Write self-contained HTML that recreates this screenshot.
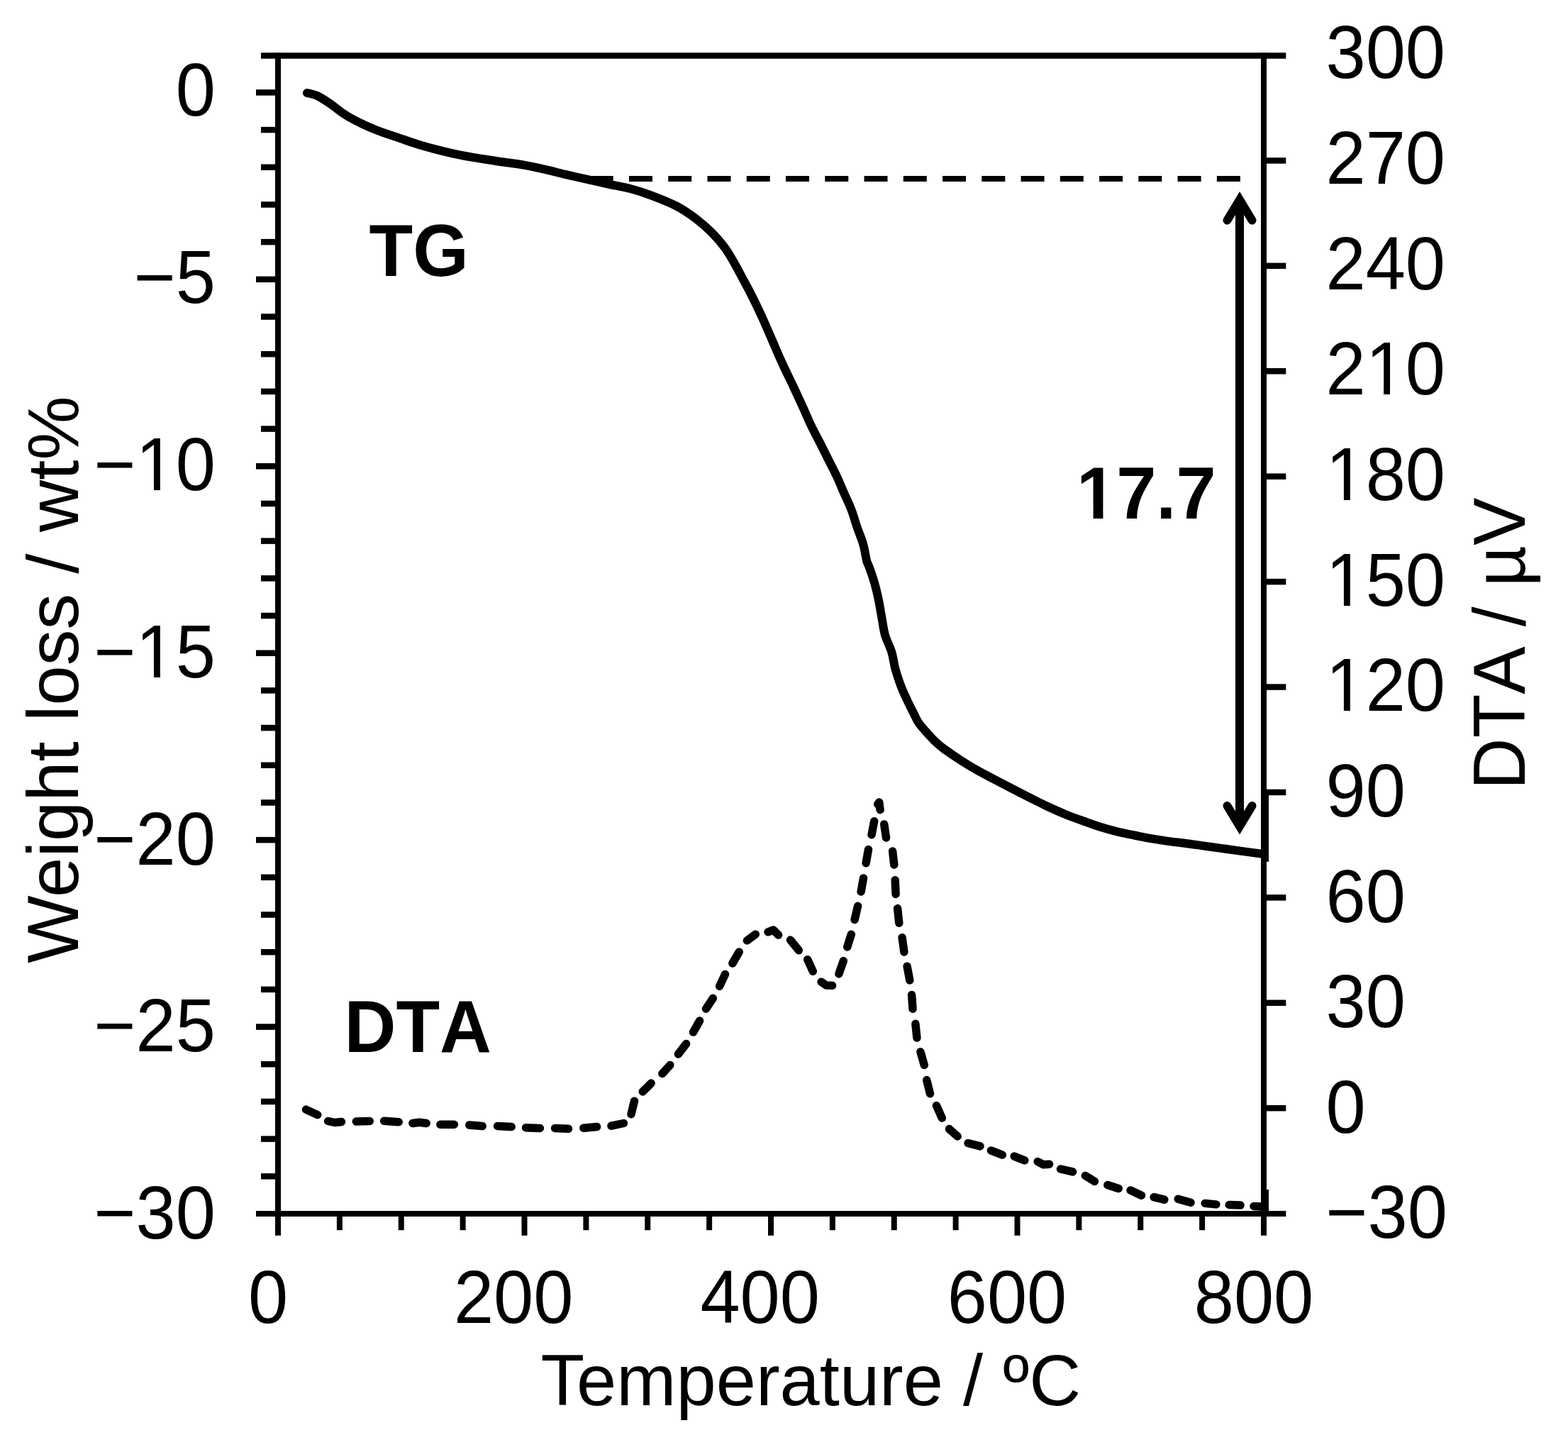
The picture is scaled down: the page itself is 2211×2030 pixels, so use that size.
<!DOCTYPE html>
<html lang="en"><head><meta charset="utf-8"><title>TG-DTA</title>
<style>html,body{margin:0;padding:0;background:#fff;}body{width:2211px;height:2030px;}svg{display:block;}text{font-family:"Liberation Sans", sans-serif;fill:#000;font-kerning:none;font-feature-settings:"kern" 0,"liga" 0;}text.k{font-kerning:normal;font-feature-settings:normal;}</style>
</head><body>
<svg width="2211" height="2030" viewBox="0 0 2211 2030">
<rect x="0" y="0" width="2211" height="2030" fill="#fff"/>
<g stroke="#000" stroke-width="8" fill="none" stroke-linecap="butt">
<line x1="368" y1="78.5" x2="1813.3" y2="78.5" stroke-width="8.5"/>
<line x1="361" y1="1711" x2="1813.3" y2="1711"/>
<line x1="392" y1="74.4" x2="392" y2="1741.8"/>
<line x1="1782" y1="74.4" x2="1782" y2="1741.8"/>
<line x1="361" y1="130.40" x2="392" y2="130.40" stroke-width="8.5"/>
<line x1="368" y1="183.09" x2="392" y2="183.09" stroke-width="8.5"/>
<line x1="368" y1="235.77" x2="392" y2="235.77" stroke-width="8.5"/>
<line x1="368" y1="288.46" x2="392" y2="288.46" stroke-width="8.5"/>
<line x1="368" y1="341.15" x2="392" y2="341.15" stroke-width="8.5"/>
<line x1="361" y1="393.83" x2="392" y2="393.83" stroke-width="8.5"/>
<line x1="368" y1="446.52" x2="392" y2="446.52" stroke-width="8.5"/>
<line x1="368" y1="499.21" x2="392" y2="499.21" stroke-width="8.5"/>
<line x1="368" y1="551.89" x2="392" y2="551.89" stroke-width="8.5"/>
<line x1="368" y1="604.58" x2="392" y2="604.58" stroke-width="8.5"/>
<line x1="361" y1="657.27" x2="392" y2="657.27" stroke-width="8.5"/>
<line x1="368" y1="709.95" x2="392" y2="709.95" stroke-width="8.5"/>
<line x1="368" y1="762.64" x2="392" y2="762.64" stroke-width="8.5"/>
<line x1="368" y1="815.33" x2="392" y2="815.33" stroke-width="8.5"/>
<line x1="368" y1="868.01" x2="392" y2="868.01" stroke-width="8.5"/>
<line x1="361" y1="920.70" x2="392" y2="920.70" stroke-width="8.5"/>
<line x1="368" y1="973.39" x2="392" y2="973.39" stroke-width="8.5"/>
<line x1="368" y1="1026.07" x2="392" y2="1026.07" stroke-width="8.5"/>
<line x1="368" y1="1078.76" x2="392" y2="1078.76" stroke-width="8.5"/>
<line x1="368" y1="1131.45" x2="392" y2="1131.45" stroke-width="8.5"/>
<line x1="361" y1="1184.13" x2="392" y2="1184.13" stroke-width="8.5"/>
<line x1="368" y1="1236.82" x2="392" y2="1236.82" stroke-width="8.5"/>
<line x1="368" y1="1289.51" x2="392" y2="1289.51" stroke-width="8.5"/>
<line x1="368" y1="1342.19" x2="392" y2="1342.19" stroke-width="8.5"/>
<line x1="368" y1="1394.88" x2="392" y2="1394.88" stroke-width="8.5"/>
<line x1="361" y1="1447.57" x2="392" y2="1447.57" stroke-width="8.5"/>
<line x1="368" y1="1500.25" x2="392" y2="1500.25" stroke-width="8.5"/>
<line x1="368" y1="1552.94" x2="392" y2="1552.94" stroke-width="8.5"/>
<line x1="368" y1="1605.63" x2="392" y2="1605.63" stroke-width="8.5"/>
<line x1="368" y1="1658.31" x2="392" y2="1658.31" stroke-width="8.5"/>
<line x1="1782" y1="226.42" x2="1813.3" y2="226.42" stroke-width="8.5"/>
<line x1="1782" y1="374.84" x2="1813.3" y2="374.84" stroke-width="8.5"/>
<line x1="1782" y1="523.25" x2="1813.3" y2="523.25" stroke-width="8.5"/>
<line x1="1782" y1="671.67" x2="1813.3" y2="671.67" stroke-width="8.5"/>
<line x1="1782" y1="820.09" x2="1813.3" y2="820.09" stroke-width="8.5"/>
<line x1="1782" y1="968.51" x2="1813.3" y2="968.51" stroke-width="8.5"/>
<line x1="1782" y1="1116.93" x2="1813.3" y2="1116.93" stroke-width="8.5"/>
<line x1="1782" y1="1265.35" x2="1813.3" y2="1265.35" stroke-width="8.5"/>
<line x1="1782" y1="1413.76" x2="1813.3" y2="1413.76" stroke-width="8.5"/>
<line x1="1782" y1="1562.18" x2="1813.3" y2="1562.18" stroke-width="8.5"/>
<line x1="478.88" y1="1711" x2="478.88" y2="1734.2"/>
<line x1="565.75" y1="1711" x2="565.75" y2="1734.2"/>
<line x1="652.62" y1="1711" x2="652.62" y2="1734.2"/>
<line x1="739.50" y1="1711" x2="739.50" y2="1741.8"/>
<line x1="826.38" y1="1711" x2="826.38" y2="1734.2"/>
<line x1="913.25" y1="1711" x2="913.25" y2="1734.2"/>
<line x1="1000.12" y1="1711" x2="1000.12" y2="1734.2"/>
<line x1="1087.00" y1="1711" x2="1087.00" y2="1741.8"/>
<line x1="1173.88" y1="1711" x2="1173.88" y2="1734.2"/>
<line x1="1260.75" y1="1711" x2="1260.75" y2="1734.2"/>
<line x1="1347.62" y1="1711" x2="1347.62" y2="1734.2"/>
<line x1="1434.50" y1="1711" x2="1434.50" y2="1741.8"/>
<line x1="1521.38" y1="1711" x2="1521.38" y2="1734.2"/>
<line x1="1608.25" y1="1711" x2="1608.25" y2="1734.2"/>
<line x1="1695.12" y1="1711" x2="1695.12" y2="1734.2"/>
</g>
<g font-size="100">
<text transform="translate(303.90,163.20) scale(1.01,1.06)" text-anchor="end">0</text>
<text transform="translate(303.90,427.05) scale(1.01,1.06)" text-anchor="end">−5</text>
<clipPath id="c1" clipPathUnits="userSpaceOnUse"><path clip-rule="evenodd" d="M-189.6 -100 H20.0 V40 H-189.6 Z M-105.24 -8.20 H-86.09 V1 H-105.24 Z M-77.26 -8.20 H-58.44 V1 H-77.26 Z"/></clipPath>
<text transform="translate(303.90,690.90) scale(1.01,1.06)" text-anchor="end" clip-path="url(#c1)">−10</text>
<clipPath id="c2" clipPathUnits="userSpaceOnUse"><path clip-rule="evenodd" d="M-189.6 -100 H20.0 V40 H-189.6 Z M-105.24 -8.20 H-86.09 V1 H-105.24 Z M-77.26 -8.20 H-58.44 V1 H-77.26 Z"/></clipPath>
<text transform="translate(303.90,954.75) scale(1.01,1.06)" text-anchor="end" clip-path="url(#c2)">−15</text>
<text transform="translate(303.90,1218.60) scale(1.01,1.06)" text-anchor="end">−20</text>
<text transform="translate(303.90,1482.45) scale(1.01,1.06)" text-anchor="end">−25</text>
<text transform="translate(303.90,1746.30) scale(1.01,1.06)" text-anchor="end">−30</text>
<text transform="translate(1869.50,110.30) scale(1.01,1.06)">300</text>
<text transform="translate(1869.50,258.95) scale(1.01,1.06)">270</text>
<text transform="translate(1869.50,407.60) scale(1.01,1.06)">240</text>
<clipPath id="c3" clipPathUnits="userSpaceOnUse"><path clip-rule="evenodd" d="M-20.0 -100 H186.9 V40 H-20.0 Z M61.62 -8.20 H80.77 V1 H61.62 Z M89.60 -8.20 H108.42 V1 H89.60 Z"/></clipPath>
<text transform="translate(1869.50,556.25) scale(1.01,1.06)" clip-path="url(#c3)">210</text>
<clipPath id="c4" clipPathUnits="userSpaceOnUse"><path clip-rule="evenodd" d="M-20.0 -100 H186.9 V40 H-20.0 Z M6.00 -8.20 H25.15 V1 H6.00 Z M33.98 -8.20 H52.80 V1 H33.98 Z"/></clipPath>
<text transform="translate(1869.50,704.90) scale(1.01,1.06)" clip-path="url(#c4)">180</text>
<clipPath id="c5" clipPathUnits="userSpaceOnUse"><path clip-rule="evenodd" d="M-20.0 -100 H186.9 V40 H-20.0 Z M6.00 -8.20 H25.15 V1 H6.00 Z M33.98 -8.20 H52.80 V1 H33.98 Z"/></clipPath>
<text transform="translate(1869.50,853.55) scale(1.01,1.06)" clip-path="url(#c5)">150</text>
<clipPath id="c6" clipPathUnits="userSpaceOnUse"><path clip-rule="evenodd" d="M-20.0 -100 H186.9 V40 H-20.0 Z M6.00 -8.20 H25.15 V1 H6.00 Z M33.98 -8.20 H52.80 V1 H33.98 Z"/></clipPath>
<text transform="translate(1869.50,1002.20) scale(1.01,1.06)" clip-path="url(#c6)">120</text>
<text transform="translate(1869.50,1150.85) scale(1.01,1.06)">90</text>
<text transform="translate(1869.50,1299.50) scale(1.01,1.06)">60</text>
<text transform="translate(1869.50,1448.15) scale(1.01,1.06)">30</text>
<text transform="translate(1869.50,1596.80) scale(1.01,1.06)">0</text>
<text transform="translate(1869.50,1745.45) scale(1.01,1.06)">−30</text>
<text transform="translate(378.00,1865.00) scale(1.01,1.06)" text-anchor="middle">0</text>
<text transform="translate(724.20,1865.00) scale(1.01,1.06)" text-anchor="middle">200</text>
<text transform="translate(1071.70,1865.00) scale(1.01,1.06)" text-anchor="middle">400</text>
<text transform="translate(1420.00,1865.00) scale(1.01,1.06)" text-anchor="middle">600</text>
<text transform="translate(1768.00,1865.00) scale(1.01,1.06)" text-anchor="middle">800</text>
<text transform="translate(762.50,1980.50) scale(1.011,1.012)" class="k">Temperature / ºC</text>
<text transform="translate(110.00,1358.00) rotate(-90) scale(1.013,1.012)" dx="0 -2.5 0 0 0 0 0 0 0 0 0 0 0 0 2.5">Weight loss / wt%</text>
<text transform="translate(2149.80,1113.30) rotate(-90) scale(1.01,1.04)">DTA / µV</text>
<text transform="translate(520.50,389.00) scale(1.01,1.047)" font-weight="bold">TG</text>
<text transform="translate(485.50,1482.50) scale(1.01,1.047)" font-weight="bold">DTA</text>
<clipPath id="c7" clipPathUnits="userSpaceOnUse"><path clip-rule="evenodd" d="M-20.0 -100 H214.6 V40 H-20.0 Z M4.80 -10.90 H23.34 V1 H4.80 Z M37.06 -10.90 H55.00 V1 H37.06 Z"/></clipPath>
<text transform="translate(1518.00,731.00) scale(1.01,1.047)" font-weight="bold" clip-path="url(#c7)">17.7</text>
</g>
<line x1="831.7" y1="252" x2="1750" y2="252" stroke="#000" stroke-width="8" stroke-dasharray="33 22.26"/>
<g stroke="#000" stroke-width="12" fill="none">
<line x1="1748" y1="281" x2="1748" y2="1166"/>
<path d="M1730.5 310.5 L1748 281.5 L1765.5 310.5" stroke-linecap="round" stroke-linejoin="miter" stroke-miterlimit="10"/>
<path d="M1730.5 1136 L1748 1165 L1765.5 1136" stroke-linecap="round" stroke-linejoin="miter" stroke-miterlimit="10"/>
</g>
<path d="M433.0 131.0 C435.4 131.7 442.3 132.7 447.7 135.2 C453.1 137.7 459.6 142.1 465.6 146.2 C471.6 150.3 477.6 155.6 483.5 159.6 C489.4 163.6 493.4 166.0 501.3 170.0 C509.2 174.0 521.1 179.5 531.1 183.5 C541.1 187.5 551.0 190.5 561.0 193.9 C571.0 197.3 580.9 201.0 590.8 204.0 C600.7 207.0 610.7 209.6 620.6 212.1 C630.5 214.6 640.5 216.9 650.4 218.9 C660.3 220.9 670.3 222.4 680.2 224.0 C690.1 225.6 700.1 227.0 710.0 228.5 C719.9 230.0 729.9 231.1 739.8 232.9 C749.7 234.7 759.7 236.9 769.6 239.2 C779.5 241.4 789.5 244.1 799.4 246.4 C809.3 248.7 819.3 251.0 829.2 253.2 C839.1 255.4 849.1 257.7 859.0 259.8 C868.9 261.9 878.9 263.4 888.8 266.0 C898.7 268.6 907.7 271.5 918.6 275.6 C929.5 279.7 943.7 285.2 954.1 290.6 C964.5 296.0 973.1 302.1 981.2 308.2 C989.3 314.3 996.0 320.3 1002.8 327.1 C1009.6 333.9 1016.5 341.8 1021.8 348.8 C1027.1 355.8 1030.3 362.0 1034.4 369.0 C1038.5 376.0 1041.9 382.6 1046.2 390.7 C1050.5 398.8 1055.7 408.2 1060.5 417.7 C1065.3 427.2 1070.0 437.1 1074.8 447.5 C1079.5 457.9 1084.3 469.2 1089.0 480.0 C1093.7 490.8 1098.2 501.6 1103.2 512.4 C1108.2 523.2 1113.8 534.5 1118.7 544.9 C1123.6 555.3 1128.3 565.5 1132.5 574.7 C1136.7 583.9 1139.9 591.8 1143.8 600.0 C1147.7 608.2 1152.0 615.8 1156.0 623.8 C1160.0 631.8 1164.0 639.8 1168.0 647.7 C1172.0 655.7 1176.2 663.5 1179.9 671.5 C1183.6 679.5 1186.8 687.4 1190.3 695.4 C1193.8 703.4 1197.7 711.2 1200.7 719.2 C1203.7 727.2 1205.8 735.2 1208.5 743.1 C1211.2 751.0 1214.8 759.0 1217.1 766.9 C1219.4 774.8 1220.7 785.3 1222.2 790.8 C1223.7 796.3 1224.0 794.5 1225.9 800.0 C1227.8 805.5 1231.5 815.8 1233.7 823.8 C1235.9 831.8 1237.7 839.8 1239.3 847.7 C1240.9 855.7 1242.0 863.5 1243.5 871.5 C1245.0 879.5 1245.7 887.4 1248.0 895.4 C1250.3 903.4 1254.9 911.2 1257.3 919.2 C1259.7 927.2 1260.3 935.2 1262.5 943.1 C1264.7 951.0 1267.5 959.4 1270.3 966.9 C1273.1 974.4 1276.4 981.2 1279.6 988.0 C1282.8 994.8 1286.7 1002.4 1289.4 1007.7 C1292.1 1013.0 1292.8 1015.3 1295.8 1019.6 C1298.8 1023.9 1303.7 1029.2 1307.7 1033.6 C1311.7 1038.0 1315.6 1042.4 1319.6 1046.1 C1323.6 1049.8 1325.5 1051.7 1331.5 1056.0 C1337.5 1060.3 1347.5 1067.1 1355.4 1072.2 C1363.4 1077.3 1371.2 1082.1 1379.2 1086.6 C1387.2 1091.1 1395.1 1095.0 1403.1 1099.2 C1411.0 1103.4 1419.0 1107.5 1426.9 1111.6 C1434.9 1115.7 1442.8 1119.8 1450.8 1123.8 C1458.8 1127.8 1466.2 1131.7 1474.7 1135.7 C1483.2 1139.7 1492.9 1144.1 1501.7 1147.7 C1510.5 1151.3 1519.4 1154.5 1527.7 1157.5 C1536.0 1160.5 1543.5 1163.3 1551.5 1165.8 C1559.5 1168.3 1567.5 1170.5 1575.4 1172.4 C1583.4 1174.4 1591.2 1175.9 1599.2 1177.5 C1607.2 1179.1 1615.1 1180.8 1623.1 1182.2 C1631.0 1183.6 1639.0 1184.8 1646.9 1185.9 C1654.9 1187.0 1662.8 1187.7 1670.8 1188.7 C1678.8 1189.7 1686.4 1190.9 1694.6 1192.1 C1702.8 1193.2 1711.9 1194.5 1720.0 1195.6 C1728.1 1196.7 1733.4 1197.5 1743.4 1198.9 C1753.4 1200.3 1773.9 1203.0 1780.0 1203.8" stroke="#000" stroke-width="12" fill="none" stroke-linecap="round" stroke-linejoin="round"/>
<rect x="1778" y="1120.8" width="11" height="94" fill="#000"/>
<rect x="1778" y="1677" width="11" height="34" fill="#000"/>
<path d="M431.5 1564.1 L447.7 1571.6 M462.6 1580.5 L472.0 1582.5 L481.5 1581.5 M502.3 1581.0 L521.2 1580.5 M541.6 1580.3 L562.2 1581.7 M581.8 1583.5 L591.3 1582.2 L601.2 1583.5 M620.8 1585.2 L640.4 1585.2 M661.8 1586.0 L680.2 1587.5 M701.5 1587.5 L721.2 1588.5 M741.5 1589.7 L761.4 1590.4 M782.5 1590.4 L801.4 1591.2 M822.8 1590.2 L841.6 1588.5 M862.0 1587.2 L879.4 1583.5 M890.0 1570.7 L894.5 1552.2 M906.3 1538.9 L918.1 1527.1 M933.8 1513.6 L944.8 1501.5 M956.4 1486.0 L967.6 1471.4 M977.5 1455.1 L986.5 1439.1 M995.5 1422.2 L1005.3 1407.3 M1014.6 1390.4 L1022.5 1373.5 M1032.9 1358.0 L1042.2 1342.0 M1053.4 1325.9 L1065.3 1317.2 M1083.0 1313.8 L1090.6 1311.0 L1097.6 1318.1 M1114.5 1325.1 L1126.3 1339.7 M1138.7 1352.7 L1146.3 1369.3 M1158.1 1384.2 L1165.1 1389.0 L1173.6 1389.3 M1182.9 1372.9 L1189.3 1354.6 M1194.7 1334.9 L1200.3 1317.2 M1205.1 1296.4 L1209.6 1277.3 M1214.1 1257.0 L1217.5 1237.9 M1221.1 1216.8 L1224.5 1197.6 M1229.0 1176.8 L1232.7 1157.7 M1237.7 1133.8 L1239.7 1131.0 L1241.1 1141.6 M1246.7 1161.9 L1249.5 1181.0 M1258.6 1199.9 L1260.8 1219.0 M1262.2 1240.7 L1263.1 1260.4 M1265.6 1280.6 L1267.8 1301.2 M1272.1 1321.7 L1274.9 1342.0 M1279.1 1362.2 L1282.8 1381.9 M1285.6 1402.5 L1287.0 1422.2 M1290.9 1443.3 L1292.9 1463.0 M1297.9 1482.7 L1303.3 1501.5 M1306.7 1522.6 L1311.5 1541.8 M1320.5 1558.6 L1328.3 1576.1 M1338.5 1591.6 L1350.2 1602.0 M1365.1 1611.5 L1382.0 1615.9 M1397.4 1621.9 L1413.3 1628.1 M1430.2 1630.1 L1444.8 1635.8 M1463.2 1637.5 L1471.4 1641.8 L1479.6 1641.3 M1495.5 1648.0 L1512.6 1651.9 M1530.3 1657.4 L1543.4 1665.4 M1561.8 1670.6 L1577.2 1675.5 M1594.1 1678.0 L1609.5 1685.2 M1627.1 1687.7 L1641.8 1691.2 M1661.2 1690.2 L1679.0 1695.2 M1699.2 1696.4 L1714.8 1697.9 M1733.2 1698.4 L1749.1 1699.1 M1768.0 1700.4 L1779.4 1700.9" stroke="#000" stroke-width="11.5" fill="none" stroke-linecap="round" stroke-linejoin="round"/>
</svg>
</body></html>
